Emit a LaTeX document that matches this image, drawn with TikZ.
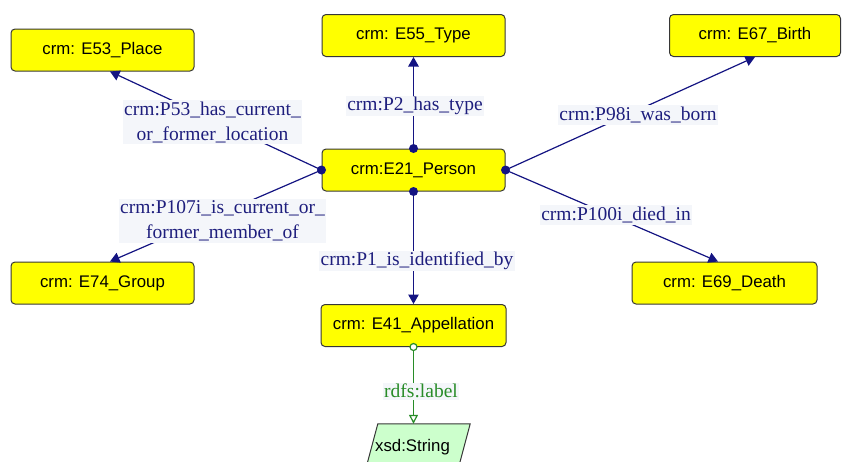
\documentclass[tikz,border=0pt]{standalone}
\usepackage{fontspec}
\setmainfont{Liberation Serif}
\setsansfont{Liberation Sans}
\usetikzlibrary{arrows.meta}
\definecolor{navyline}{RGB}{20,20,130}
\definecolor{navytext}{RGB}{30,30,125}
\definecolor{boxedge}{RGB}{55,55,55}
\definecolor{classfill}{RGB}{255,255,0}
\definecolor{lblbg}{RGB}{244,246,250}
\definecolor{greenline}{RGB}{40,140,40}
\definecolor{strfill}{RGB}{204,255,204}
\begin{document}
\begin{tikzpicture}[x=1pt,y=-1pt,
  cls/.style={draw=boxedge, fill=classfill, rounded corners=4pt, line width=1pt,
    minimum width=183pt, minimum height=42pt, inner sep=0pt,
    font=\sffamily\fontsize{16.8}{18}\selectfont},
  rel/.style={draw=navyline, line width=1.2pt},
  reltip/.style={-{Triangle[length=9.5pt,width=10.5pt]}},
  enddot/.style={circle, fill=navyline, inner sep=0pt, minimum size=9pt},
  lbl/.style={fill=lblbg, text=navytext, inner sep=1.5pt, align=center,
    font=\rmfamily\fontsize{19.5}{25}\selectfont},
  lit/.style={draw=greenline, line width=1.2pt}
]
\path[clip] (0,0) rectangle (842,461);

% classes
\node[cls] (place) at (102.5,50) {crm: E53\_Place};
\node[cls] (type) at (413.5,35.5) {crm: E55\_Type};
\node[cls, minimum width=171pt] (birth) at (755,35.5) {crm: E67\_Birth};
\node[cls] (person) at (413.5,170) {crm:E21\_Person};
\node[cls] (group) at (102.5,283) {crm: E74\_Group};
\node[cls, minimum width=185pt] (death) at (724.5,283) {crm: E69\_Death};
\node[cls, minimum width=185pt] (appel) at (413.5,325.5) {crm: E41\_Appellation};

% literal (parallelogram, cut by the lower edge)
\node[minimum height=46pt, minimum width=92pt, inner sep=0pt] (str) at (413.5,447) {};
\path[draw=boxedge, fill=strfill, line width=1pt]
  ([xshift=10.5pt]str.north west) -- ([xshift=10.5pt]str.north east)
  -- ([xshift=-1.9pt]str.south east) -- ([xshift=-1.9pt]str.south west) -- cycle;
\node[font=\sffamily\fontsize{16.8}{18}\selectfont] (strtext) at (412.5,447) {xsd:String};

% properties
\draw[rel, reltip] (person.north) -- (type.south);
\draw[rel, reltip] (person.west) -- ([xshift=7.5pt]place.south);
\draw[rel, reltip] (person.west) -- ([xshift=7.5pt]group.north);
\draw[rel, reltip] (person.east) -- (birth.south);
\draw[rel, reltip] (person.east) -- ([xshift=-6.5pt]death.north);
\draw[rel, reltip] (person.south) -- (appel.north);

\node[enddot] (dn) at (person.north) {};
\node[enddot] (dw) at (person.west) {};
\node[enddot] (de) at (person.east) {};
\node[enddot] (ds) at (person.south) {};

% datatype property
\node[circle, draw=greenline, line width=1.2pt, fill=white, inner sep=0pt,
  minimum size=7pt] (lc) at (appel.south) {};
\draw[lit, -{Triangle[open,length=9pt,width=9pt]}] (lc.south) -- (str.north);

% property labels
\node[lbl] (l53) at (212.5,122) {crm:P53\_has\_current\_\\or\_former\_location};
\node[lbl] (l107) at (222.5,221) {crm:P107i\_is\_current\_or\_\\former\_member\_of};
\node[lbl] (l2) at (415,106) {crm:P2\_has\_type};
\node[lbl] (l98) at (638,115) {crm:P98i\_was\_born};
\node[lbl] (l100) at (616,215) {crm:P100i\_died\_in};
\node[lbl] (l1) at (417,261) {crm:P1\_is\_identified\_by};
\node[lbl, text=greenline] (lr) at (421,391) {rdfs:label};
\end{tikzpicture}
\end{document}
